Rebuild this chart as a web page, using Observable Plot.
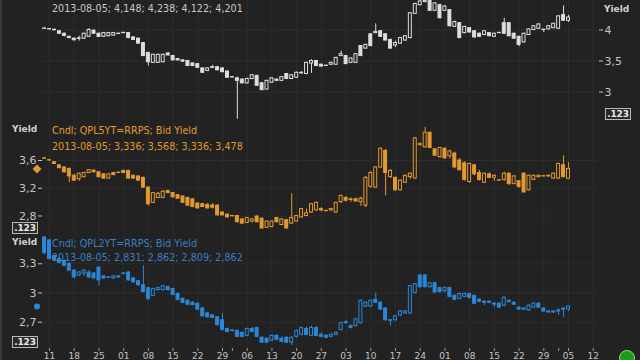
<!DOCTYPE html>
<html><head><meta charset="utf-8">
<script src="https://cdn.jsdelivr.net/npm/d3@7"></script>
<script src="https://cdn.jsdelivr.net/npm/@observablehq/plot@0.6"></script>
<style>
html,body{margin:0;padding:0;background:#222;overflow:hidden;}
#chart{position:relative;width:640px;height:360px;background:#222;overflow:hidden;font-family:"DejaVu Sans",sans-serif;}
#chart svg{position:absolute;left:0;top:0;background:transparent !important;}
.lbl{position:absolute;white-space:nowrap;line-height:1;}
.yl{font-weight:bold;font-size:9px;color:#d2d2d2;}
.lg{font-size:9.6px;}
.box{position:absolute;width:24px;height:10px;border:1px solid #b8b8b8;background:#2a2a2a;color:#e8e8e8;font:bold 9px "DejaVu Sans",sans-serif;line-height:10px;text-align:center;letter-spacing:-0.2px;}
.edge{position:absolute;left:0;top:0;width:2px;height:360px;background:#3a3a3a;}
.green{position:absolute;left:619px;top:350px;width:14px;height:14px;border-radius:50%;background:#1c9a1c;border:1px solid #8ad88a;}
</style></head>
<body><div id="chart"></div>
<script>
// ---- data: OHLC per trading day (weekdays from 2013-03-08 to 2013-08-05) ----
const seriesNames = ["QPL10YT=RRPS", "QPL5YT=RRPS", "QPL2YT=RRPS"];
const pl10 = [
 [4.02,4.035,4.01,4.025],[4.015,4.02,4.0,4.01],[4.005,4.01,3.99,3.995],[3.98,3.99,3.93,3.94],[3.94,3.95,3.89,3.905],
 [3.89,3.9,3.86,3.87],[3.86,3.87,3.82,3.835],[3.855,3.9,3.82,3.865],[3.86,3.95,3.85,3.94],[3.89,4.02,3.88,4.0],
 [3.99,4.0,3.93,3.94],[3.94,3.95,3.88,3.89],[3.89,3.96,3.88,3.95],[3.9,3.96,3.89,3.95],[3.91,3.96,3.9,3.95],
 [3.94,3.95,3.93,3.935],[3.95,3.96,3.94,3.955],[3.95,3.96,3.86,3.87],[3.88,3.89,3.83,3.84],[3.86,3.87,3.77,3.78],
 [3.79,3.8,3.57,3.58],[3.63,3.64,3.42,3.48],[3.47,3.61,3.46,3.6],[3.47,3.61,3.46,3.6],[3.48,3.61,3.47,3.6],
 [3.62,3.64,3.58,3.59],[3.58,3.59,3.5,3.51],[3.53,3.54,3.5,3.51],[3.51,3.52,3.48,3.49],[3.5,3.51,3.41,3.42],
 [3.46,3.47,3.41,3.42],[3.45,3.46,3.38,3.39],[3.38,3.39,3.3,3.31],[3.34,3.39,3.33,3.38],[3.4,3.43,3.38,3.39],
 [3.4,3.41,3.34,3.35],[3.38,3.39,3.31,3.32],[3.33,3.34,3.22,3.23],[3.24,3.25,3.23,3.235],[3.22,3.24,2.56,3.18],
 [3.2,3.21,3.13,3.14],[3.14,3.22,3.13,3.21],[3.21,3.28,3.2,3.27],[3.26,3.27,3.09,3.1],[3.14,3.15,3.02,3.03],
 [3.04,3.19,3.03,3.18],[3.15,3.23,3.14,3.22],[3.2,3.21,3.17,3.18],[3.18,3.25,3.17,3.24],[3.29,3.3,3.2,3.21],
 [3.21,3.28,3.2,3.27],[3.23,3.32,3.22,3.31],[3.31,3.33,3.29,3.3],[3.29,3.48,3.28,3.47],[3.46,3.52,3.3,3.5],
 [3.5,3.51,3.41,3.42],[3.44,3.45,3.4,3.41],[3.42,3.43,3.41,3.425],[3.44,3.48,3.43,3.47],[3.44,3.56,3.43,3.55],
 [3.58,3.66,3.57,3.61],[3.58,3.59,3.44,3.45],[3.47,3.55,3.46,3.54],[3.47,3.62,3.46,3.61],[3.74,3.75,3.57,3.58],
 [3.7,3.77,3.69,3.76],[3.93,3.94,3.73,3.74],[3.95,4.1,3.94,3.97],[3.98,3.99,3.88,3.89],[3.93,3.94,3.82,3.83],
 [3.84,3.85,3.69,3.7],[3.75,3.82,3.72,3.79],[3.78,3.88,3.77,3.87],[3.83,3.91,3.82,3.9],[3.87,4.28,3.86,4.27],
 [4.26,4.43,4.25,4.42],[4.4,4.48,4.39,4.46],[4.45,4.52,4.44,4.47],[4.47,4.49,4.3,4.31],[4.31,4.44,4.3,4.43],
 [4.4,4.42,4.18,4.19],[4.31,4.39,4.3,4.38],[4.32,4.33,4.05,4.06],[4.05,4.14,4.04,4.13],[4.11,4.12,3.86,3.87],
 [3.95,4.06,3.94,4.05],[4.03,4.04,3.95,3.96],[3.98,3.99,3.87,3.88],[3.94,3.95,3.88,3.89],[3.92,3.99,3.91,3.98],
 [3.95,3.96,3.89,3.9],[3.89,3.95,3.88,3.94],[3.95,3.96,3.94,3.955],[4.11,4.19,3.93,3.94],[4.11,4.12,3.89,3.9],
 [3.94,3.95,3.85,3.86],[3.89,3.9,3.73,3.76],[3.8,3.95,3.79,3.94],[3.92,4.02,3.91,4.01],[4.0,4.07,3.99,4.06],
 [4.02,4.1,4.01,4.09],[4.0,4.01,3.96,4.005],[4.01,4.07,4.0,4.06],[4.03,4.11,4.02,4.1],[4.02,4.23,4.01,4.22],
 [4.24,4.39,4.14,4.15],[4.148,4.238,4.122,4.201]
];
const pl5 = [
 [3.63,3.64,3.62,3.625],[3.6,3.61,3.59,3.605],[3.575,3.58,3.54,3.55],[3.53,3.54,3.48,3.49],[3.5,3.51,3.42,3.43],
 [3.48,3.49,3.28,3.37],[3.38,3.4,3.3,3.31],[3.33,3.42,3.3,3.41],[3.36,3.43,3.35,3.42],[3.42,3.47,3.41,3.46],
 [3.455,3.46,3.42,3.43],[3.43,3.44,3.35,3.36],[3.4,3.41,3.33,3.34],[3.34,3.41,3.33,3.4],[3.42,3.43,3.38,3.39],
 [3.425,3.43,3.41,3.42],[3.45,3.46,3.41,3.42],[3.45,3.46,3.33,3.34],[3.38,3.39,3.33,3.34],[3.37,3.38,3.3,3.31],
 [3.35,3.36,3.2,3.21],[3.21,3.22,2.94,2.97],[2.99,3.14,2.98,3.13],[3.06,3.14,3.05,3.12],[3.06,3.17,3.05,3.15],
 [3.16,3.17,3.12,3.13],[3.13,3.14,3.06,3.07],[3.1,3.11,3.04,3.05],[3.08,3.09,2.98,2.99],[3.06,3.07,2.94,2.95],
 [3.04,3.05,2.92,2.93],[2.98,2.99,2.9,2.91],[2.97,2.98,2.92,2.93],[2.96,2.98,2.9,2.91],[2.95,2.98,2.9,2.92],
 [2.95,2.96,2.8,2.81],[2.85,2.86,2.8,2.81],[2.82,2.83,2.77,2.78],[2.8,2.81,2.79,2.795],[2.8,2.81,2.7,2.71],
 [2.75,2.76,2.68,2.69],[2.7,2.78,2.69,2.77],[2.72,2.76,2.7,2.75],[2.79,2.81,2.7,2.71],[2.76,2.77,2.61,2.62],
 [2.63,2.73,2.62,2.72],[2.64,2.73,2.63,2.72],[2.77,2.78,2.7,2.71],[2.67,2.76,2.66,2.75],[2.74,2.75,2.61,2.62],
 [2.69,3.12,2.68,2.77],[2.72,2.81,2.71,2.8],[2.78,2.91,2.77,2.9],[2.8,2.9,2.79,2.84],[2.85,2.98,2.84,2.97],
 [2.88,3.0,2.87,2.99],[2.9,2.92,2.86,2.88],[2.875,2.88,2.86,2.87],[2.88,2.91,2.87,2.9],[2.85,3.0,2.84,2.99],
 [3.0,3.1,2.98,3.09],[3.06,3.08,3.0,3.02],[3.03,3.06,3.0,3.04],[3.04,3.06,3.0,3.01],[3.0,3.07,2.94,3.05],
 [2.95,3.37,2.92,3.35],[3.22,3.44,3.2,3.42],[3.21,3.51,3.2,3.5],[3.5,3.78,3.49,3.77],[3.74,3.76,3.09,3.42],
 [3.36,3.47,3.34,3.45],[3.35,3.36,3.16,3.17],[3.17,3.32,3.16,3.31],[3.28,3.39,3.27,3.38],[3.36,3.42,3.33,3.41],
 [3.34,3.93,3.33,3.92],[3.82,3.85,3.81,3.84],[3.79,4.08,3.78,4.0],[4.0,4.01,3.77,3.78],[3.76,3.77,3.66,3.67],
 [3.65,3.79,3.63,3.78],[3.77,3.78,3.62,3.63],[3.66,3.75,3.62,3.73],[3.7,3.72,3.48,3.5],[3.6,3.63,3.45,3.46],
 [3.56,3.58,3.3,3.32],[3.29,3.56,3.27,3.55],[3.53,3.54,3.38,3.4],[3.42,3.46,3.3,3.32],[3.28,3.42,3.27,3.41],
 [3.4,3.42,3.34,3.35],[3.35,3.39,3.3,3.38],[3.31,3.32,3.3,3.315],[3.32,3.43,3.3,3.41],[3.41,3.42,3.24,3.26],
 [3.26,3.38,3.25,3.37],[3.3,3.31,3.2,3.22],[3.41,3.42,3.13,3.14],[3.17,3.39,3.16,3.38],[3.32,3.39,3.31,3.38],
 [3.36,3.39,3.35,3.38],[3.37,3.38,3.36,3.375],[3.37,3.39,3.36,3.38],[3.34,3.42,3.33,3.41],[3.34,3.56,3.33,3.55],
 [3.53,3.67,3.35,3.36],[3.336,3.568,3.336,3.478]
];
const pl2 = [
 [3.57,3.58,3.39,3.41],[3.54,3.55,3.34,3.35],[3.38,3.39,3.33,3.34],[3.35,3.36,3.3,3.31],[3.33,3.34,3.27,3.28],
 [3.3,3.31,3.22,3.23],[3.23,3.24,3.15,3.16],[3.18,3.22,3.17,3.21],[3.2,3.24,3.17,3.23],[3.21,3.23,3.15,3.16],
 [3.2,3.21,3.14,3.15],[3.26,3.27,3.07,3.13],[3.17,3.18,3.14,3.15],[3.16,3.165,3.15,3.155],[3.15,3.18,3.14,3.17],
 [3.17,3.18,3.15,3.16],[3.2,3.21,3.19,3.195],[3.21,3.22,3.12,3.13],[3.15,3.16,3.1,3.11],[3.12,3.13,3.07,3.08],
 [3.08,3.28,3.0,3.01],[3.05,3.06,2.92,2.94],[2.97,3.05,2.96,3.04],[3.03,3.06,3.02,3.05],[3.03,3.08,3.02,3.07],
 [3.06,3.07,3.02,3.03],[3.04,3.05,2.97,2.98],[2.99,3.0,2.92,2.93],[2.94,2.95,2.89,2.9],[2.92,2.93,2.87,2.88],
 [2.9,2.91,2.87,2.875],[2.89,2.9,2.82,2.83],[2.84,2.85,2.75,2.76],[2.79,2.8,2.74,2.75],[2.77,2.78,2.74,2.745],
 [2.75,2.76,2.66,2.67],[2.72,2.79,2.61,2.62],[2.63,2.64,2.59,2.6],[2.615,2.62,2.6,2.61],[2.61,2.62,2.54,2.55],
 [2.59,2.6,2.54,2.55],[2.56,2.64,2.55,2.63],[2.63,2.65,2.59,2.6],[2.64,2.65,2.54,2.55],[2.54,2.55,2.48,2.49],
 [2.53,2.54,2.48,2.49],[2.51,2.57,2.5,2.56],[2.56,2.57,2.51,2.52],[2.53,2.55,2.49,2.5],[2.54,2.55,2.48,2.49],
 [2.49,2.55,2.46,2.54],[2.55,2.62,2.54,2.61],[2.57,2.65,2.56,2.64],[2.63,2.65,2.56,2.57],[2.56,2.66,2.55,2.64],
 [2.64,2.65,2.55,2.56],[2.57,2.59,2.54,2.55],[2.56,2.57,2.53,2.54],[2.55,2.58,2.54,2.57],[2.57,2.6,2.56,2.59],
 [2.62,2.7,2.61,2.69],[2.7,2.72,2.68,2.69],[2.66,2.67,2.63,2.64],[2.66,2.74,2.65,2.73],[2.69,2.93,2.68,2.92],
 [2.86,2.91,2.85,2.9],[2.86,2.93,2.85,2.92],[2.93,3.0,2.89,2.9],[2.9,2.91,2.82,2.83],[2.84,2.85,2.71,2.72],
 [2.72,2.725,2.66,2.715],[2.72,2.77,2.71,2.76],[2.77,2.82,2.76,2.81],[2.79,2.82,2.78,2.81],[2.79,3.08,2.78,3.07],
 [3.0,3.1,2.99,3.09],[3.18,3.19,3.05,3.06],[3.18,3.19,3.05,3.06],[3.06,3.11,3.05,3.1],[3.1,3.11,3.0,3.005],
 [3.05,3.06,3.0,3.01],[3.02,3.06,3.0,3.05],[3.05,3.06,2.95,2.96],[2.97,2.98,2.92,2.93],[2.94,3.0,2.93,2.99],
 [2.96,3.0,2.95,2.99],[2.99,3.0,2.94,2.95],[2.97,2.98,2.88,2.89],[2.93,2.94,2.9,2.91],[2.9,2.92,2.87,2.91],
 [2.91,2.92,2.89,2.9],[2.88,2.9,2.85,2.89],[2.89,2.9,2.84,2.85],[2.87,2.96,2.86,2.95],[2.92,2.93,2.9,2.905],
 [2.9,2.91,2.87,2.88],[2.85,2.86,2.82,2.83],[2.84,2.85,2.82,2.83],[2.82,2.88,2.81,2.87],[2.85,2.9,2.84,2.89],
 [2.89,2.9,2.84,2.85],[2.84,2.85,2.8,2.81],[2.81,2.82,2.79,2.8],[2.8,2.82,2.79,2.81],[2.81,2.84,2.77,2.82],
 [2.84,2.85,2.75,2.83],[2.831,2.862,2.809,2.862]
];
const tickLabels = ["11","18","25","01","08","15","22","29","06","13","20","27","03","10","17","24","01","08","15","22","29","05","12"];
const ticks10 = [3, 3.5, 4];
const ticks5 = [2.8, 3.2, 3.6];
const ticks2 = [2.7, 3, 3.3];

// ---- trading-day axis ----
const days = [];
for (let d = new Date(2013, 2, 8); d <= new Date(2013, 7, 12); d.setDate(d.getDate() + 1)) {
  const wd = d.getDay();
  if (wd !== 0 && wd !== 6) days.push(new Date(d));
}
const mondayIdx = [], monthIdx = [];
days.forEach((d, i) => {
  if (d.getDay() === 1) mondayIdx.push(i);
  else if (i > 0 && d.getMonth() !== days[i - 1].getMonth()) monthIdx.push(i);
});
const labelMap = new Map(mondayIdx.map((m, k) => [m, tickLabels[k]]));

const BG = "#222222", GRID = "#2c2c2c", TXT = "#c4c4c4";
const WHITE = "#dedede", ORANGE = "#e39a30", BLUE = "#2b88d8";
const fmt = d => String(d).replace(".", ",");

function panel({rows, color, yDomain, yRange, yTicks, anchor, extra = [], showX = false}) {
  const data = rows.map(([o, h, l, c], i) => ({i, o, h, l, c}));
  const up = data.filter(d => d.c >= d.o), down = data.filter(d => d.c < d.o);
  const marks = [];
  if (showX) marks.push(
    Plot.gridX(mondayIdx, {stroke: GRID, strokeOpacity: 1}),
    Plot.axisX(mondayIdx, {tickSize: 3, tickPadding: 1, tickFormat: d => labelMap.get(d), fontSize: 9, label: null, stroke: "#9a9a9a", fill: TXT}),
    Plot.axisX(monthIdx, {tickSize: 3, tickFormat: () => "", label: null, stroke: "#9a9a9a"})
  );
  marks.push(
    Plot.gridY(yTicks, {stroke: GRID, strokeOpacity: 1}),
    Plot.axisY(yTicks, {anchor, tickSize: 4, tickPadding: 2, tickFormat: fmt, fontSize: 11, label: null, stroke: TXT, fill: TXT}),
    Plot.ruleX(data, {x: "i", y1: "l", y2: "h", stroke: color, strokeWidth: 1}),
    Plot.rect(down, {x1: d => d.i - 0.3, x2: d => d.i + 0.3, y1: "o", y2: "c", fill: color, stroke: color, strokeWidth: 1}),
    Plot.rect(up, {x1: d => d.i - 0.3, x2: d => d.i + 0.3, y1: "o", y2: "c", fill: BG, stroke: color, strokeWidth: 1}),
    ...extra
  );
  return Plot.plot({
    width: 640, height: 360,
    marginLeft: 42, marginRight: 42, marginTop: 0, marginBottom: 12,
    x: {domain: [-0.42, 112.07], range: [42, 598], axis: null, label: null},
    y: {domain: yDomain, range: yRange, axis: null, label: null},
    style: {background: "transparent", color: TXT, fontFamily: "DejaVu Sans", fontSize: "11px", overflow: "visible"},
    marks
  });
}

const chart = document.getElementById("chart");
chart.appendChild(panel({
  rows: pl2, color: BLUE, yDomain: [2.7, 3.3], yRange: [321.7, 263.3], yTicks: ticks2, anchor: "left", showX: true,
  extra: [Plot.dot([pl2[pl2.length - 1]], {y: d => d[3], frameAnchor: "left", dx: -5.5, r: 3, fill: BLUE})]
}));
chart.appendChild(panel({
  rows: pl5, color: ORANGE, yDomain: [2.8, 3.6], yRange: [215.5, 160], yTicks: ticks5, anchor: "left",
  extra: [Plot.dot([pl5[pl5.length - 1]], {y: d => d[3], frameAnchor: "left", dx: -5.5, r: 4, symbol: "diamond2", fill: ORANGE})]
}));
chart.appendChild(panel({
  rows: pl10, color: WHITE, yDomain: [3, 4], yRange: [91.5, 29.5], yTicks: ticks10, anchor: "right"
}));

function addDiv(cls, text, left, top, color) {
  const el = document.createElement("div");
  el.className = cls;
  el.textContent = text;
  el.style.left = left + "px";
  el.style.top = top + "px";
  if (color) el.style.color = color;
  chart.appendChild(el);
  return el;
}
const last10 = pl10[pl10.length - 1], last5 = pl5[pl5.length - 1], last2 = pl2[pl2.length - 1];
const fmtRow = r => "2013-08-05; " + r.map(v => v.toFixed(3).replace(".", ",")).join("; ");
// top panel
addDiv("lbl lg", fmtRow(last10), 52, 3.7, "#c8c8c8");
addDiv("lbl yl", "Yield", 604, 4.8);
addDiv("box", ".123", 605, 108);
// middle panel
addDiv("lbl yl", "Yield", 12, 125.3);
addDiv("lbl lg", "Cndl; " + seriesNames[1] + "; Bid Yield", 52, 126.4, ORANGE);
addDiv("lbl lg", fmtRow(last5), 52, 141.9, ORANGE);
addDiv("box", ".123", 12, 221.5);
// bottom panel
addDiv("lbl yl", "Yield", 12, 238);
addDiv("lbl lg", "Cndl; " + seriesNames[2] + "; Bid Yield", 52, 239, "#3a7fc2");
addDiv("lbl lg", fmtRow(last2), 52, 253.4, "#3a7fc2");
addDiv("box", ".123", 12, 336);
// frame decorations
const edge = document.createElement("div"); edge.className = "edge"; chart.appendChild(edge);
const g = document.createElement("div"); g.className = "green"; chart.appendChild(g);
</script>
</body></html>
